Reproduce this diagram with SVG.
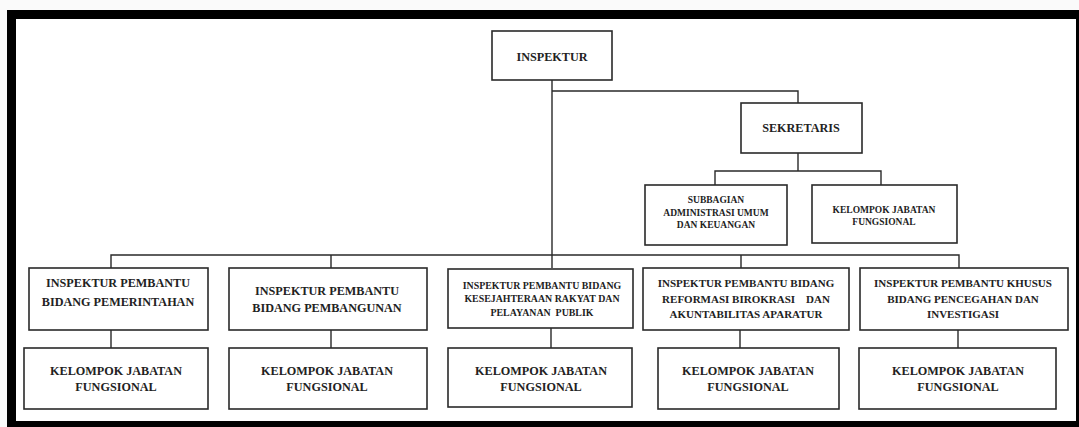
<svg xmlns="http://www.w3.org/2000/svg" width="1079" height="427" viewBox="0 0 1079 427">
<style>
.box{fill:#fff;stroke:#2a2a2a;stroke-width:1.6}
.ln{fill:none;stroke:#2a2a2a;stroke-width:1.4}
text{font-family:"Liberation Serif","Times New Roman",serif;font-weight:bold;fill:#222;text-anchor:middle}
.t12{font-size:12.2px}
.t11{font-size:11px}
.t10{font-size:9.9px}
.t9{font-size:9.5px}
</style>
<rect x="0" y="0" width="1079" height="427" fill="#fafafa"/>
<rect x="7" y="10" width="1072" height="417" fill="#000"/>
<rect x="16" y="19" width="1060" height="402" fill="#fff"/>
<g id="connectors">
<path class="ln" d="M552 80 V268 M552 91 H798 V103 M798 153 V171 M715 185 V171 H881 V185"/>
<path class="ln" d="M111 268 V255 H959 V268 M331 255 V268 M741 255 V268"/>
<path class="ln" d="M111 330 V348 M331 330 V348 M551 328 V348 M740 330 V348 M958 330 V348"/>
</g>
<g id="inspektur"><rect class="box" x="492" y="31" width="120" height="49"/><text class="t12" x="552" y="61">INSPEKTUR</text></g>
<g id="sekretaris"><rect class="box" x="741" y="103" width="121" height="50"/><text class="t12" x="801" y="132">SEKRETARIS</text></g>
<g id="subbagian"><rect class="box" x="645" y="185" width="142" height="60"/><text class="t9" x="716" y="203">SUBBAGIAN</text><text class="t9" x="716" y="216">ADMINISTRASI UMUM</text><text class="t9" x="716" y="228">DAN KEUANGAN</text></g>
<g id="kjf-sekretariat"><rect class="box" x="812" y="185" width="145" height="58"/><text class="t9" x="884" y="213">KELOMPOK JABATAN</text><text class="t9" x="884" y="225">FUNGSIONAL</text></g>
<g id="irban1"><rect class="box" x="29" y="268" width="179" height="62"/><text class="t12" x="118" y="287">INSPEKTUR PEMBANTU</text><text class="t12" x="118" y="306">BIDANG PEMERINTAHAN</text></g>
<g id="irban2"><rect class="box" x="229" y="268" width="198" height="62"/><text class="t12" x="327" y="295">INSPEKTUR PEMBANTU</text><text class="t12" x="327" y="312">BIDANG PEMBANGUNAN</text></g>
<g id="irban3"><rect class="box" x="448" y="269" width="185" height="59"/><text class="t10" x="542" y="289">INSPEKTUR PEMBANTU BIDANG</text><text class="t10" x="542" y="302">KESEJAHTERAAN RAKYAT DAN</text><text class="t10" x="542" y="316" xml:space="preserve">PELAYANAN  PUBLIK</text></g>
<g id="irban4"><rect class="box" x="643" y="268" width="206" height="62"/><text class="t11" x="746" y="287">INSPEKTUR PEMBANTU BIDANG</text><text class="t11" x="746" y="303" xml:space="preserve">REFORMASI BIROKRASI    DAN</text><text class="t11" x="746" y="318">AKUNTABILITAS APARATUR</text></g>
<g id="irban5"><rect class="box" x="860" y="268" width="208" height="62"/><text class="t11" x="963" y="287">INSPEKTUR PEMBANTU KHUSUS</text><text class="t11" x="963" y="303">BIDANG PENCEGAHAN DAN</text><text class="t11" x="963" y="318">INVESTIGASI</text></g>
<g id="kjf1"><rect class="box" x="24" y="348" width="184" height="61"/><text class="t12" x="116" y="375">KELOMPOK JABATAN</text><text class="t12" x="116" y="391">FUNGSIONAL</text></g>
<g id="kjf2"><rect class="box" x="229" y="348" width="198" height="61"/><text class="t12" x="327" y="375">KELOMPOK JABATAN</text><text class="t12" x="327" y="391">FUNGSIONAL</text></g>
<g id="kjf3"><rect class="box" x="448" y="348" width="184" height="59"/><text class="t12" x="541" y="375">KELOMPOK JABATAN</text><text class="t12" x="541" y="391">FUNGSIONAL</text></g>
<g id="kjf4"><rect class="box" x="658" y="348" width="181" height="61"/><text class="t12" x="748" y="375">KELOMPOK JABATAN</text><text class="t12" x="748" y="391">FUNGSIONAL</text></g>
<g id="kjf5"><rect class="box" x="859" y="348" width="197" height="61"/><text class="t12" x="958" y="375">KELOMPOK JABATAN</text><text class="t12" x="958" y="391">FUNGSIONAL</text></g>
</svg>
